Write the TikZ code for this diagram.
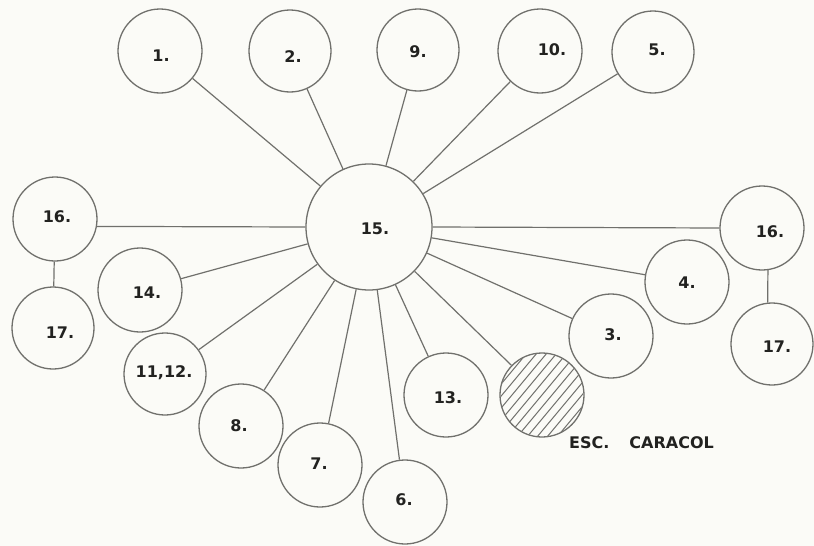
\documentclass[tikz,border=0pt]{standalone}
\usepackage{fontspec}
\setmainfont{DejaVu Sans}
\definecolor{bg}{RGB}{251,251,247}
\definecolor{ln}{RGB}{112,112,108}
\definecolor{tx}{RGB}{34,34,32}
\begin{document}
\begin{tikzpicture}[x=1pt,y=-1pt,
  circ/.style={circle,draw=ln,line width=1.3pt,inner sep=0pt,minimum size=#1},
  circ/.default=84pt,
  lab/.style={text=tx,font=\fontsize{16}{16}\selectfont\bfseries,inner sep=0pt},
  conn/.style={draw=ln,line width=1.2pt},
  hatch/.style={draw=ln,line width=1pt}]
\fill[bg] (0,0) rectangle (814,546);
\useasboundingbox (0,0) rectangle (814,546);
% circles
\node[circ=84pt] (n1) at (160,51) {};
\node[circ=82pt] (n2) at (290,51) {};
\node[circ=82pt] (n9) at (418,50) {};
\node[circ=84pt] (n10) at (540,51) {};
\node[circ=82pt] (n5) at (653,52) {};
\node[circ=126pt] (n15) at (369,227) {};
\node[circ=84pt] (n16L) at (55,219) {};
\node[circ=82pt] (n17L) at (53,328) {};
\node[circ=84pt] (n14) at (140,290) {};
\node[circ=82pt] (n1112) at (165,374) {};
\node[circ=84pt] (n8) at (241,426) {};
\node[circ=84pt] (n7) at (320,465) {};
\node[circ=84pt] (n6) at (405,502) {};
\node[circ=84pt] (n13) at (446,395) {};
\node[circ=84pt] (nh) at (542,395) {};
\node[circ=84pt] (n3) at (611,336) {};
\node[circ=84pt] (n4) at (687,282) {};
\node[circ=84pt] (n16R) at (762,228) {};
\node[circ=82pt] (n17R) at (772,344) {};
% hatching
\begin{scope}
\clip (nh.center) circle[radius=41.5pt];
\foreach \k in {-120,-110,...,120}{
  \draw[hatch] (542+\k-50,395+60) -- (542+\k+50,395-60);
}
\end{scope}
% labels
\node[lab] (t1) at (161,56) {1.};
\node[lab] (t2) at (293,57) {2.};
\node[lab] (t9) at (418,52) {9.};
\node[lab] (t10) at (552,50) {10.};
\node[lab] (t5) at (657,50) {5.};
\node[lab] (t15) at (375,229) {15.};
\node[lab] (t16L) at (57,217) {16.};
\node[lab] (t17L) at (60,333) {17.};
\node[lab] (t14) at (147,293) {14.};
\node[lab] (t1112) at (164,373) {11,12.};
\node[lab] (t8) at (239,426) {8.};
\node[lab] (t7) at (319,464) {7.};
\node[lab] (t6) at (404,500) {6.};
\node[lab] (t13) at (448,398) {13.};
\node[lab] (t3) at (613,335) {3.};
\node[lab] (t4) at (687,283) {4.};
\node[lab] (t16R) at (770,232) {16.};
\node[lab] (t17R) at (777,347) {17.};
\node[lab,anchor=west] (tesc) at (569,443) {ESC.\hspace{20pt}CARACOL};
% connectors
\foreach \n in {n1,n2,n9,n10,n5,n14,n1112,n8,n7,n6,n13,nh,n3,n4}{
  \draw[conn] (\n) -- (n15);
}
\draw[conn] (n16L.-10) -- (n15.180);
\draw[conn] (n15.0) -- (n16R.180);
\draw[conn] (n16L) -- (n17L);
\draw[conn] (n16R.-82) -- (n17R.96);
\end{tikzpicture}
\end{document}
